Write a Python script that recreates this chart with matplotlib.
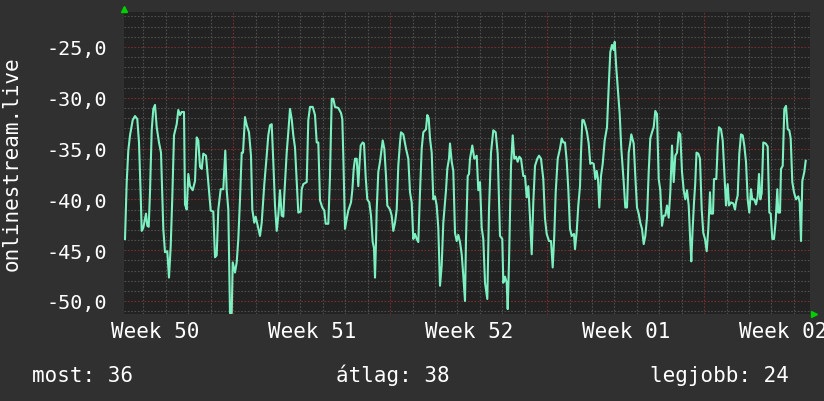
import matplotlib.pyplot as plt

# rrd samples: step index (one step per pixel column, ~1.07 h) and value
steps = [1, 2.7, 4.3, 6, 8.7, 11, 13.3, 15, 16.7, 17.7, 19.3, 22, 23.3, 24.7, 26, 27.7, 29.3, 31,
         32.7, 35, 37, 39.3, 41, 43.3, 45, 46.7, 48.3, 50, 52.7, 54.3, 56, 57.7, 60, 61, 62.7, 64.3,
         66, 68.7, 71, 72.7, 74.3, 76, 77.7, 79.3, 82, 84.3, 86.7, 89.3, 91, 92.7, 94.3, 96.7, 99.3,
         101.3, 102.7, 104.3, 106, 107.7, 108.7, 111, 112.7, 114.3, 116, 117.7, 119, 121, 122.7, 125,
         127, 128.3, 130.3, 131.7, 133.7, 136, 137.7, 140.3, 142.7, 144.3, 146, 147.7, 149.3, 151,
         152.7, 154.3, 156, 157.7, 159.3, 160.3, 162.7, 164.3, 166, 167.7, 169.3, 171, 172.7, 174.3,
         176.7, 177.7, 179.3, 182.7, 184.3, 186, 188.7, 191, 192.7, 194.3, 196, 198.3, 200.3, 201.7,
         204.3, 206, 207.7, 209.3, 211, 214.3, 217, 218.3, 219.3, 221, 222.7, 224.3, 227, 228.3,
         229.7, 231, 232.7, 234.3, 235.3, 236.7, 238.7, 240, 241.7, 243.3, 245.3, 247, 248.7, 250,
         251, 252, 252.7, 254.3, 256, 257.7, 258.7, 260.3, 262, 263.3, 266, 267.7, 269.3, 271, 272.7,
         274.3, 276, 277, 279.3, 282, 284.3, 286, 287.7, 289.3, 291, 292.7, 294.3, 296, 297.7, 299.3,
         302, 303.3, 304.7, 306, 307.7, 309.3, 311, 312.7, 314.3, 316, 317.7, 319.3, 322, 323.3, 325,
         326, 327.7, 329.3, 331, 332.7, 334.3, 336, 337.7, 339.3, 341, 342, 343.7, 345, 346, 348.3,
         350.3, 352.7, 354.3, 356, 357.7, 359.3, 361, 363.3, 365, 367, 369.3, 371.7, 373.7, 376,
         378.3, 379.3, 381, 382.7, 383.7, 385, 387, 388.7, 390.3, 392, 393.7, 395.3, 397, 399.3, 401,
         402.7, 404.3, 406, 407.7, 409.3, 411, 413.3, 415, 417, 419.3, 421, 422.7, 425, 427, 428.7,
         430.3, 431.7, 433.7, 436, 437.7, 439.3, 441, 442.7, 444.3, 446, 447.7, 450, 451, 452.7,
         454.3, 456, 457, 458.3, 459.7, 461.3, 463, 464.7, 466.3, 468, 469.7, 471.3, 472.7, 474,
         475.3, 477, 478.7, 480.7, 483, 484.7, 486.3, 488, 489.7, 490.7, 492.3, 494, 495.7, 497.3,
         499.7, 501.3, 503, 504.7, 506.3, 507.3, 509.7, 511.3, 513, 514.7, 516.3, 518, 519.7, 521.3,
         523, 524.7, 526.3, 528, 529.7, 531.3, 533, 534.7, 536.3, 538, 539.7, 541.3, 543, 544.7,
         546.3, 548, 549.7, 551.3, 553, 554.7, 556.3, 558, 559.7, 561.3, 563, 564.7, 566.3, 567.3,
         568.7, 570, 571.2, 572.5, 574.3, 576, 577.7, 579.3, 581, 582.7, 584.3, 586, 587, 589, 590,
         592.3, 593.7, 595, 597, 598.7, 600.3, 602, 603.7, 605, 607, 609.3, 611, 612, 613.7, 615.3,
         617, 618.7, 620.3, 622, 623.7, 625.3, 627, 628.3, 630.3, 632, 633.7, 635, 636.3, 637.7,
         639.3, 641.7, 643.7, 645.3, 646.7, 648.3, 650, 651.7, 653.3, 654.3, 656, 657, 658.7, 660.3,
         662, 663.7, 665.3, 666.7, 668.3, 670, 672, 674.3, 675.7, 677, 678.3, 680.3, 681.7]
values = [-43.9, -38.3, -35.2, -33.7, -32.2, -31.8, -32.1, -34.4, -39.6, -43.1, -42.8, -41.4, -42.6,
          -42.7, -39.3, -33.2, -31.1, -30.7, -32.9, -34.4, -35.4, -42.9, -45.2, -45.1, -47.7, -44.6,
          -39.8, -33.7, -32.6, -31.2, -31.7, -31.4, -31.4, -40.5, -41.0, -37.5, -38.7, -39.1, -38.2,
          -33.9, -34.2, -36.8, -37.0, -35.5, -35.7, -38.3, -41.1, -41.2, -45.7, -45.5, -41.0, -39.0,
          -39.0, -35.2, -39.1, -41.0, -51.2, -51.2, -46.2, -47.2, -46.2, -43.9, -40.0, -35.4, -35.4,
          -31.9, -32.7, -33.4, -35.7, -41.0, -42.3, -41.7, -42.6, -43.6, -42.3, -38.5, -35.7, -33.7,
          -32.7, -32.6, -36.3, -40.6, -43.1, -41.6, -39.1, -41.6, -41.7, -39.6, -35.4, -33.4, -31.1,
          -32.1, -33.7, -34.9, -38.3, -41.3, -41.2, -39.0, -38.5, -38.3, -32.2, -30.9, -30.9, -31.7,
          -34.4, -34.4, -40.1, -40.8, -41.1, -42.4, -42.4, -37.7, -30.1, -30.1, -30.9, -31.0, -31.5,
          -32.1, -35.7, -42.9, -41.9, -41.1, -40.3, -39.1, -37.0, -36.0, -36.0, -38.7, -36.8, -34.7,
          -34.4, -34.5, -37.8, -40.0, -40.3, -41.6, -44.2, -44.8, -47.7, -44.2, -41.0, -37.3, -36.3,
          -35.0, -34.2, -35.0, -37.7, -40.6, -41.0, -41.6, -43.1, -42.3, -41.0, -36.7, -34.4, -33.4,
          -33.6, -35.0, -36.0, -39.3, -40.3, -43.9, -43.4, -43.9, -44.2, -39.3, -35.0, -33.4, -33.1,
          -31.7, -32.0, -34.0, -35.4, -40.0, -39.7, -40.6, -42.8, -48.5, -46.5, -42.3, -39.1, -37.0,
          -36.0, -34.5, -36.3, -37.2, -43.3, -44.1, -43.5, -44.2, -45.4, -47.5, -50.0, -43.9, -37.7,
          -37.5, -36.0, -34.7, -36.0, -35.7, -39.1, -38.3, -42.8, -43.9, -48.2, -49.8, -41.0, -35.4,
          -33.2, -33.4, -35.5, -43.6, -43.9, -48.2, -47.6, -48.2, -50.8, -46.2, -36.7, -33.7, -36.0,
          -35.8, -36.3, -35.8, -36.0, -37.7, -37.7, -39.8, -38.7, -41.8, -45.4, -40.3, -36.7, -36.0,
          -35.7, -36.0, -38.0, -41.9, -43.4, -44.1, -44.1, -46.7, -43.5, -39.3, -36.0, -35.0, -34.0,
          -34.4, -34.4, -36.2, -39.0, -42.9, -43.6, -43.4, -44.9, -43.2, -40.6, -38.7, -35.4, -32.2,
          -32.2, -32.7, -33.4, -34.5, -36.5, -36.4, -36.5, -38.0, -37.2, -38.0, -40.8, -37.7, -36.5,
          -34.2, -32.9, -28.9, -25.5, -24.8, -25.3, -24.5, -27.1, -29.4, -31.6, -35.0, -38.3, -40.8,
          -40.8, -35.4, -34.4, -33.6, -34.5, -37.7, -40.8, -41.4, -42.3, -42.9, -44.4, -43.6, -41.8,
          -37.3, -34.0, -33.4, -32.9, -31.3, -31.6, -38.0, -39.1, -42.6, -41.6, -41.6, -40.6, -41.8,
          -39.3, -34.7, -38.3, -35.7, -35.4, -33.4, -33.6, -37.3, -39.1, -40.0, -39.1, -40.6, -44.2,
          -46.1, -42.8, -40.3, -38.5, -35.4, -35.5, -36.0, -41.0, -43.3, -43.9, -45.1, -42.9, -39.3,
          -41.4, -41.4, -38.0, -38.0, -34.7, -32.9, -33.1, -34.2, -37.3, -40.6, -38.5, -40.6, -40.3,
          -40.4, -41.0, -40.3, -39.6, -35.5, -33.6, -33.7, -34.7, -36.3, -40.0, -41.3, -39.0, -40.0,
          -40.0, -40.5, -39.7, -37.5, -40.0, -39.4, -34.4, -34.5, -34.8, -41.3, -41.4, -43.9, -43.9,
          -42.1, -39.0, -41.3, -41.3, -37.0, -36.7, -31.1, -30.8, -33.1, -33.2, -34.0, -38.3, -39.3,
          -40.0, -39.7, -40.3, -44.1, -38.2, -37.3, -36.2]

week_labels = ["Week 50", "Week 51", "Week 52", "Week 01", "Week 02"]
y_ticks = [-50, -45, -40, -35, -30, -25]
y_label = "onlinestream.live"
summary = ["most: 36", "átlag: 38", "legjobb: 24"]

W, H = 824, 402
steps_per_day = 22.43
bg = "#303030"
canvas = "#222222"
line_col = "#7cf0c0"
minor_col = "#4e4e4e"
major_col = "#7c2c2c"
mono = "DejaVu Sans Mono"

fig = plt.figure(figsize=(W / 100, H / 100), dpi=100, facecolor=bg)
ax = fig.add_axes([124 / W, (H - 315) / H, 686 / W, 302 / H], facecolor=canvas)
ax.set_xlim(0, 686)
ax.set_ylim(-51.28, -21.56)

# horizontal grid: 1 unit minor, 5 unit major
for v in range(-51, -21):
    if v % 5 == 0:
        ax.axhline(v, color=major_col, lw=0.8, ls=(0, (1.5, 1.5)), zorder=1)
    else:
        ax.axhline(v, color=minor_col, lw=0.8, ls=(0, (1.5, 1.5)), zorder=1)

# vertical grid: days minor, weeks major
first_day = 19.4
k = 0
while first_day + k * steps_per_day < 686:
    x = first_day + k * steps_per_day
    col = major_col if (k - 4) % 7 == 0 else minor_col
    ax.axvline(x, color=col, lw=0.8, ls=(0, (1.5, 1.5)), zorder=1)
    k += 1

ax.plot(steps, values, color=line_col, lw=1.5, zorder=3)

for s in ax.spines.values():
    s.set_visible(False)

ax.set_yticks(y_ticks)
ax.set_yticklabels([f"{v:.1f}".replace(".", ",") for v in y_ticks])
label_pos = [30.7 + i * 7 * steps_per_day for i in range(len(week_labels))]
ax.set_xticks(label_pos)
ax.set_xticklabels(week_labels)
ax.tick_params(axis="y", length=0, pad=12, labelsize=14.5, labelcolor="white")
ax.tick_params(axis="x", length=0, pad=5, labelsize=15, labelcolor="white")
for lab in ax.get_xticklabels() + ax.get_yticklabels():
    lab.set_family(mono)
    lab.set_clip_on(False)

fig.text(12 / W, 1 - 164 / H, y_label, rotation=90, ha="center", va="center",
         family=mono, fontsize=15, color="white")

# axis arrows
ax.plot([0], [1 + 3 / 302], marker="^", color="#00d000", ms=5, transform=ax.transAxes,
        clip_on=False, zorder=5)
ax.plot([1 + 4 / 686], [0], marker=">", color="#00d000", ms=5, transform=ax.transAxes,
        clip_on=False, zorder=5)

for txt, x in zip(summary, [32, 336, 650]):
    fig.text(x / W, (H - 382) / H, txt, ha="left", va="baseline", family=mono,
             fontsize=15, color="white")

fig.savefig("out.png", dpi=100, facecolor=bg)
